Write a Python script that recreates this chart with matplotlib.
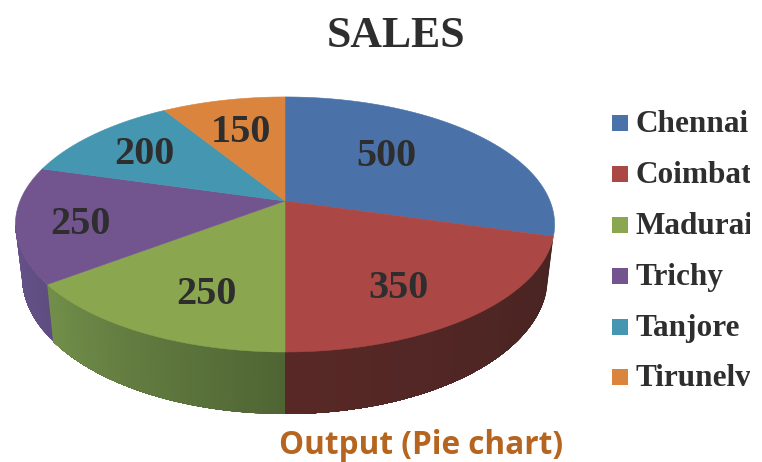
import numpy as np
import matplotlib.pyplot as plt
from matplotlib.patches import Rectangle

# Data
cities = ['Chennai', 'Coimbatore', 'Madurai', 'Trichy', 'Tanjore', 'Tirunelveli']
sales = [500, 350, 250, 250, 200, 150]
colors = ['#4a72a8', '#ab4846', '#8aa64e', '#72558f', '#4596b0', '#db843d']

# Side wall shades, (start of slice, end of slice) going clockwise
side_shades = {1: ('#472422', '#582826'), 2: ('#4f6534', '#728f4a'), 3: ('#5f4d82', '#67538a')}

# Layout in pixels
cx, cy = 285, 201
rx, ry = 265, 123.2
persp = 0.184
depth = 50.6
bottom_scale = 0.975
label_pos = [(386, 157), (399, 289), (206, 294), (80, 224), (144, 154), (241, 132)]
legend_y = [123, 174, 225, 276, 327, 377]
text_color = '#2e2e2e'
serif = 'Liberation Serif'


def project(theta, lower=False):
    # Perspective view of a point on the pie rim, theta clockwise from the top
    u = np.sin(theta)
    v = np.cos(theta)
    s = 1 / (1 + persp * v)
    if lower:
        return cx + rx * u * s * bottom_scale, cy - ry * v * s + depth * s
    return cx + rx * u * s, cy - ry * v * s


def mix(c1, c2, t):
    a = np.array(plt.matplotlib.colors.to_rgb(c1))
    b = np.array(plt.matplotlib.colors.to_rgb(c2))
    return tuple(a + (b - a) * t)


fig = plt.figure(figsize=(7.62, 4.62), dpi=100)
ax = fig.add_axes([0, 0, 1, 1])
ax.set_xlim(0, 762)
ax.set_ylim(462, 0)
ax.axis('off')

edges = np.radians(np.cumsum([0] + sales) / sum(sales) * 360)

# Side walls first, each piece runs on to the slice end so no seams show
for i, shades in side_shades.items():
    t = np.linspace(edges[i], edges[i + 1], 80)
    t = t[np.cos(t) < -persp]
    for j in range(len(t) - 1):
        x1, y1 = project(t[j:])
        x2, y2 = project(t[j:], lower=True)
        c = mix(shades[0], shades[1], j / (len(t) - 2))
        ax.fill(np.r_[x1, x2[::-1]], np.r_[y1, y2[::-1]], color=c, lw=0, zorder=1)

# Top of the pie
for i, c in enumerate(colors):
    t = np.linspace(edges[i], edges[i + 1], 120)
    x, y = project(t)
    ax.fill(np.r_[cx, x], np.r_[cy, y], color=c, lw=0.4, zorder=2)
    ax.text(label_pos[i][0], label_pos[i][1], str(sales[i]), family=serif, weight='bold',
            fontsize=29, color=text_color, ha='center', va='center', zorder=3)

# Legend, the names run off the picture at the right
clip = Rectangle((0, 0), 750, 462, transform=ax.transData)
for name, c, y in zip(cities, colors, legend_y):
    ax.add_patch(Rectangle((612, y - 8), 16, 16, color=c, lw=0))
    txt = ax.text(635.5, y + 1.5, name, family=serif, weight='bold', fontsize=22.5,
                  color=text_color, ha='left', va='center', clip_on=True)
    txt.set_clip_path(clip)

ax.text(396, 36, 'SALES', family=serif, weight='bold', fontsize=31.5,
        color=text_color, ha='center', va='center')
ax.text(421.5, 445, 'Output (Pie chart)', family='Open Sans', weight='bold', fontsize=22.7,
        color='#b5651f', ha='center', va='center')

fig.savefig('out.png', dpi=100)
